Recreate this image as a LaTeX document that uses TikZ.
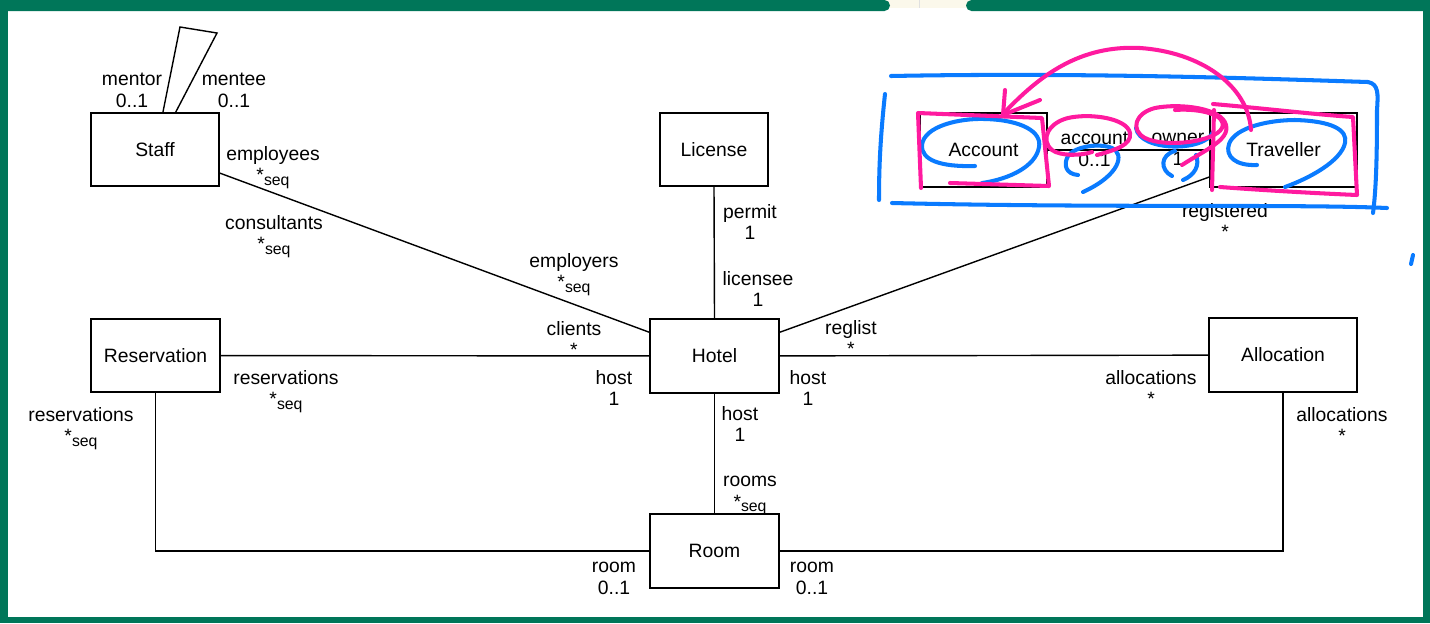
\documentclass[tikz,border=0pt]{standalone}
\usepackage{fontspec}
\setmainfont{Liberation Sans}
\usetikzlibrary{positioning}
\definecolor{framegreen}{HTML}{007659}
\definecolor{tabcream}{HTML}{FBF8EB}
\definecolor{inkblue}{HTML}{0A7BFF}
\definecolor{inkpink}{HTML}{FF1A9F}
\newcommand{\mseq}{*\raisebox{-0.3ex}[0pt][0pt]{\small seq}}

\begin{document}
\begin{tikzpicture}[
    x=0.02cm, y=-0.02cm,
    cls/.style 2 args={rectangle, draw, line width=0.8pt, inner sep=0pt, minimum width=#1*0.02cm, minimum height=#2*0.02cm, font=\fontsize{11}{12.5}\selectfont},
    role/.style={align=center, inner sep=0pt, font=\fontsize{11}{12.5}\selectfont},
    assoc/.style={draw, line width=0.8pt},
    blueink/.style={draw=inkblue, line width=2.3pt, line cap=round, line join=round},
    pinkink/.style={draw=inkpink, line width=2.3pt, line cap=round, line join=round}
]
% frame
\useasboundingbox (0,0) rectangle (1430,623);
\fill[white] (0,0) rectangle (1430,623);
\fill[tabcream] (880,0) rectangle (975,8);
\draw[black!12] (919,0) -- (919,8);
\fill[framegreen] (0,0) rectangle (8,623);
\fill[framegreen] (1423,0) rectangle (1430,623);
\fill[framegreen] (0,617) rectangle (1430,623);
\fill[framegreen, rounded corners=0.11cm] (-20,0) rectangle (890,11);
\fill[framegreen, rounded corners=0.11cm] (966,0) rectangle (1450,11);

% classes
\node[cls={128}{73}] (staff) at (155,149.5) {Staff};
\node[cls={108}{73}] (license) at (714,149.5) {License};
\node[cls={127}{74}] (account) at (983.5,150) {Account};
\node[cls={147}{74}] (traveller) at (1283.5,150) {Traveller};
\node[cls={129}{73}] (reservation) at (155.5,355.5) {Reservation};
\node[cls={129}{74}] (hotel) at (714.5,356) {Hotel};
\node[cls={148}{74}] (allocation) at (1283,355) {Allocation};
\node[cls={129}{74}] (room) at (714.5,551) {Room};

% associations
\coordinate (loopa) at (180,27);
\coordinate (loopb) at (217,33);
\draw[assoc] (staff.78) -- (loopa) -- (loopb) -- (staff.61);
\draw[assoc] (staff.340) -- (hotel.160);
\draw[assoc] (license.south) -- (hotel.north);
\draw[assoc] (traveller.200) -- (hotel.20);
\draw[assoc] (account) -- (traveller);
\draw[assoc] (reservation) -- (hotel);
\draw[assoc] (hotel) -- (allocation);
\draw[assoc] (hotel) -- (room);
\draw[assoc] (reservation.south) |- (room.west);
\draw[assoc] (allocation.south) |- (room.east);

% role names and multiplicities
\node[role] (mentor) at (132,90) {mentor\\0..1};
\node[role] (mentee) at (234,90) {mentee\\0..1};
\node[role] (employees) at (273,164) {employees\\\mseq};
\node[role] (consultants) at (274,233) {consultants\\\mseq};
\node[role] (employers) at (574,271) {employers\\\mseq};
\node[role] (clients) at (574,339) {clients\\*};
\node[role] (permit) at (750,222) {permit\\1};
\node[role] (licensee) at (758,289) {licensee\\1};
\node[role] (reglist) at (851,338) {reglist\\*};
\node[role] (registered) at (1225,221) {registered\\*};
\node[role] (accountrole) at (1094.5,149) {account\\0..1};
\node[role] (owner) at (1178,149) {owner\\1};
\node[role] (reservations) at (286,388) {reservations\\\mseq};
\node[role] (hostleft) at (614,388) {host\\1};
\node[role] (hostright) at (808,388) {host\\1};
\node[role] (allocations) at (1151,388) {allocations\\*};
\node[role] (hostdown) at (740,424) {host\\1};
\node[role] (rooms) at (750,492) {rooms\\\mseq};
\node[role] (reservationsb) at (81,425) {reservations\\\mseq};
\node[role] (allocationsb) at (1342,425) {allocations\\*};
\node[role] (roomleft) at (614,578) {room\\0..1};
\node[role] (roomright) at (812,578) {room\\0..1};

% blue ink
\draw[blueink] (891,76) .. controls (1100,72) and (1300,80) .. (1368,82) .. controls (1379,84) and (1378,95) .. (1377,110) .. controls (1377,160) and (1376,190) .. (1373,213);
\draw[blueink] (885,94) .. controls (880,140) and (879,170) .. (879,200);
\draw[blueink] (892,203) .. controls (1100,208) and (1300,204) .. (1387,208);
\draw[blueink] (975,166) .. controls (940,167) and (921,160) .. (922,145) .. controls (924,126) and (960,118) .. (985,119) .. controls (1022,120) and (1042,132) .. (1039,147) .. controls (1036,166) and (1010,179) .. (982,183);
\draw[blueink] (1078,175) .. controls (1066,174) and (1063,165) .. (1068,156) .. controls (1075,146) and (1100,143) .. (1112,148) .. controls (1125,154) and (1120,175) .. (1083,192);
\draw[blueink] (1136,128) .. controls (1140,152) and (1205,152) .. (1213,132);
\draw[blueink] (1172,176) .. controls (1160,170) and (1160,155) .. (1175,151);
\draw[blueink] (1196,155) .. controls (1200,165) and (1195,175) .. (1183,180);
\draw[blueink] (1257,165) .. controls (1235,166) and (1225,156) .. (1229,144) .. controls (1235,127) and (1270,120) .. (1295,120) .. controls (1332,121) and (1348,130) .. (1345,143) .. controls (1341,161) and (1310,178) .. (1285,187);
\draw[blueink] (1413,255) -- (1411,264);

% pink ink
\draw[pinkink] (921,188) -- (918,113) -- (1042,118) -- (1049,186) -- (950,183);
\draw[pinkink] (1097,155) .. controls (1115,150) and (1132,145) .. (1130,133) .. controls (1127,118) and (1090,113) .. (1068,118) .. controls (1048,123) and (1040,140) .. (1052,150) .. controls (1060,156) and (1080,156) .. (1092,152);
\draw[pinkink] (1182,165) .. controls (1205,150) and (1230,140) .. (1226,125) .. controls (1222,108) and (1180,103) .. (1155,108) .. controls (1135,113) and (1130,130) .. (1145,138) .. controls (1165,148) and (1215,142) .. (1222,128) .. controls (1228,115) and (1200,108) .. (1175,110);
\draw[pinkink] (1212,190) -- (1214,110);
\draw[pinkink] (1213,104) .. controls (1260,108) and (1310,114) .. (1353,117) -- (1357,195) .. controls (1310,193) and (1260,190) .. (1220,187);
\draw[pinkink] (1251,130) .. controls (1248,85) and (1200,52) .. (1140,48) .. controls (1080,45) and (1040,75) .. (1004,113);
\draw[pinkink] (1005,90) -- (1003,115) -- (1040,100);
\end{tikzpicture}
\end{document}
